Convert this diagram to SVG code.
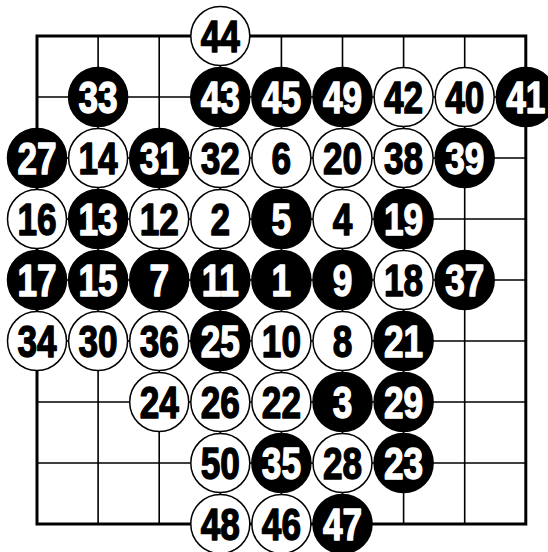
<svg xmlns="http://www.w3.org/2000/svg" width="548" height="552" viewBox="0 0 548 552">
<style>
.g{stroke:#000;stroke-width:1.6;fill:none}
.e{stroke:#000;stroke-width:3;fill:none}
.w circle{fill:#fff;stroke:#000;stroke-width:1.5}
.b circle{fill:#000;stroke:#000;stroke-width:1.5}
text{font-family:"Liberation Sans",Arial,sans-serif;font-weight:bold;font-size:44px;text-anchor:middle;stroke-width:1.4;stroke-linejoin:round}
.w text{fill:#000;stroke:#000}
.b text{fill:#fff;stroke:#fff}
</style>
<rect width="548" height="552" fill="#fff"/>
<g id="grid">
<path class="g" d="M98.1 36V524M159.2 36V524M220.3 36V524M281.4 36V524M342.5 36V524M403.6 36V524M464.7 36V524M37 97H525.8M37 158H525.8M37 219H525.8M37 280H525.8M37 341H525.8M37 402H525.8M37 463H525.8"/>
<rect class="e" x="37" y="36" width="488.8" height="488"/>
</g>
<g id="stones">
<g id="s44" class="w" transform="translate(220.3,36)"><circle r="29.5"/><text y="16" transform="scale(0.8,1)">44</text></g>
<g id="s33" class="b" transform="translate(98.1,97)"><circle r="29.5"/><text y="16" transform="scale(0.8,1)">33</text></g>
<g id="s43" class="b" transform="translate(220.3,97)"><circle r="29.5"/><text y="16" transform="scale(0.8,1)">43</text></g>
<g id="s45" class="b" transform="translate(281.4,97)"><circle r="29.5"/><text y="16" transform="scale(0.8,1)">45</text></g>
<g id="s49" class="b" transform="translate(342.5,97)"><circle r="29.5"/><text y="16" transform="scale(0.8,1)">49</text></g>
<g id="s42" class="w" transform="translate(403.6,97)"><circle r="29.5"/><text y="16" transform="scale(0.8,1)">42</text></g>
<g id="s40" class="w" transform="translate(464.7,97)"><circle r="29.5"/><text y="16" transform="scale(0.8,1)">40</text></g>
<g id="s41" class="b" transform="translate(525.8,97)"><circle r="29.5"/><text y="16" transform="scale(0.8,1)">41</text></g>
<g id="s27" class="b" transform="translate(37,158)"><circle r="29.5"/><text y="16" transform="scale(0.8,1)">27</text></g>
<g id="s14" class="w" transform="translate(98.1,158)"><circle r="29.5"/><text y="16" transform="scale(0.8,1)">14</text></g>
<g id="s31" class="b" transform="translate(159.2,158)"><circle r="29.5"/><text y="16" transform="scale(0.8,1)">31</text></g>
<g id="s32" class="w" transform="translate(220.3,158)"><circle r="29.5"/><text y="16" transform="scale(0.8,1)">32</text></g>
<g id="s6" class="w" transform="translate(281.4,158)"><circle r="29.5"/><text y="16" transform="scale(0.8,1)">6</text></g>
<g id="s20" class="w" transform="translate(342.5,158)"><circle r="29.5"/><text y="16" transform="scale(0.8,1)">20</text></g>
<g id="s38" class="w" transform="translate(403.6,158)"><circle r="29.5"/><text y="16" transform="scale(0.8,1)">38</text></g>
<g id="s39" class="b" transform="translate(464.7,158)"><circle r="29.5"/><text y="16" transform="scale(0.8,1)">39</text></g>
<g id="s16" class="w" transform="translate(37,219)"><circle r="29.5"/><text y="16" transform="scale(0.8,1)">16</text></g>
<g id="s13" class="b" transform="translate(98.1,219)"><circle r="29.5"/><text y="16" transform="scale(0.8,1)">13</text></g>
<g id="s12" class="w" transform="translate(159.2,219)"><circle r="29.5"/><text y="16" transform="scale(0.8,1)">12</text></g>
<g id="s2" class="w" transform="translate(220.3,219)"><circle r="29.5"/><text y="16" transform="scale(0.8,1)">2</text></g>
<g id="s5" class="b" transform="translate(281.4,219)"><circle r="29.5"/><text y="16" transform="scale(0.8,1)">5</text></g>
<g id="s4" class="w" transform="translate(342.5,219)"><circle r="29.5"/><text y="16" transform="scale(0.8,1)">4</text></g>
<g id="s19" class="b" transform="translate(403.6,219)"><circle r="29.5"/><text y="16" transform="scale(0.8,1)">19</text></g>
<g id="s17" class="b" transform="translate(37,280)"><circle r="29.5"/><text y="16" transform="scale(0.8,1)">17</text></g>
<g id="s15" class="b" transform="translate(98.1,280)"><circle r="29.5"/><text y="16" transform="scale(0.8,1)">15</text></g>
<g id="s7" class="b" transform="translate(159.2,280)"><circle r="29.5"/><text y="16" transform="scale(0.8,1)">7</text></g>
<g id="s11" class="b" transform="translate(220.3,280)"><circle r="29.5"/><text y="16" transform="scale(0.8,1)">11</text></g>
<g id="s1" class="b" transform="translate(281.4,280)"><circle r="29.5"/><text y="16" transform="scale(0.8,1)">1</text></g>
<g id="s9" class="b" transform="translate(342.5,280)"><circle r="29.5"/><text y="16" transform="scale(0.8,1)">9</text></g>
<g id="s18" class="w" transform="translate(403.6,280)"><circle r="29.5"/><text y="16" transform="scale(0.8,1)">18</text></g>
<g id="s37" class="b" transform="translate(464.7,280)"><circle r="29.5"/><text y="16" transform="scale(0.8,1)">37</text></g>
<g id="s34" class="w" transform="translate(37,341)"><circle r="29.5"/><text y="16" transform="scale(0.8,1)">34</text></g>
<g id="s30" class="w" transform="translate(98.1,341)"><circle r="29.5"/><text y="16" transform="scale(0.8,1)">30</text></g>
<g id="s36" class="w" transform="translate(159.2,341)"><circle r="29.5"/><text y="16" transform="scale(0.8,1)">36</text></g>
<g id="s25" class="b" transform="translate(220.3,341)"><circle r="29.5"/><text y="16" transform="scale(0.8,1)">25</text></g>
<g id="s10" class="w" transform="translate(281.4,341)"><circle r="29.5"/><text y="16" transform="scale(0.8,1)">10</text></g>
<g id="s8" class="w" transform="translate(342.5,341)"><circle r="29.5"/><text y="16" transform="scale(0.8,1)">8</text></g>
<g id="s21" class="b" transform="translate(403.6,341)"><circle r="29.5"/><text y="16" transform="scale(0.8,1)">21</text></g>
<g id="s24" class="w" transform="translate(159.2,402)"><circle r="29.5"/><text y="16" transform="scale(0.8,1)">24</text></g>
<g id="s26" class="w" transform="translate(220.3,402)"><circle r="29.5"/><text y="16" transform="scale(0.8,1)">26</text></g>
<g id="s22" class="w" transform="translate(281.4,402)"><circle r="29.5"/><text y="16" transform="scale(0.8,1)">22</text></g>
<g id="s3" class="b" transform="translate(342.5,402)"><circle r="29.5"/><text y="16" transform="scale(0.8,1)">3</text></g>
<g id="s29" class="b" transform="translate(403.6,402)"><circle r="29.5"/><text y="16" transform="scale(0.8,1)">29</text></g>
<g id="s50" class="w" transform="translate(220.3,463)"><circle r="29.5"/><text y="16" transform="scale(0.8,1)">50</text></g>
<g id="s35" class="b" transform="translate(281.4,463)"><circle r="29.5"/><text y="16" transform="scale(0.8,1)">35</text></g>
<g id="s28" class="w" transform="translate(342.5,463)"><circle r="29.5"/><text y="16" transform="scale(0.8,1)">28</text></g>
<g id="s23" class="b" transform="translate(403.6,463)"><circle r="29.5"/><text y="16" transform="scale(0.8,1)">23</text></g>
<g id="s48" class="w" transform="translate(220.3,524)"><circle r="29.5"/><text y="16" transform="scale(0.8,1)">48</text></g>
<g id="s46" class="w" transform="translate(281.4,524)"><circle r="29.5"/><text y="16" transform="scale(0.8,1)">46</text></g>
<g id="s47" class="b" transform="translate(342.5,524)"><circle r="29.5"/><text y="16" transform="scale(0.8,1)">47</text></g>
</g>
</svg>
